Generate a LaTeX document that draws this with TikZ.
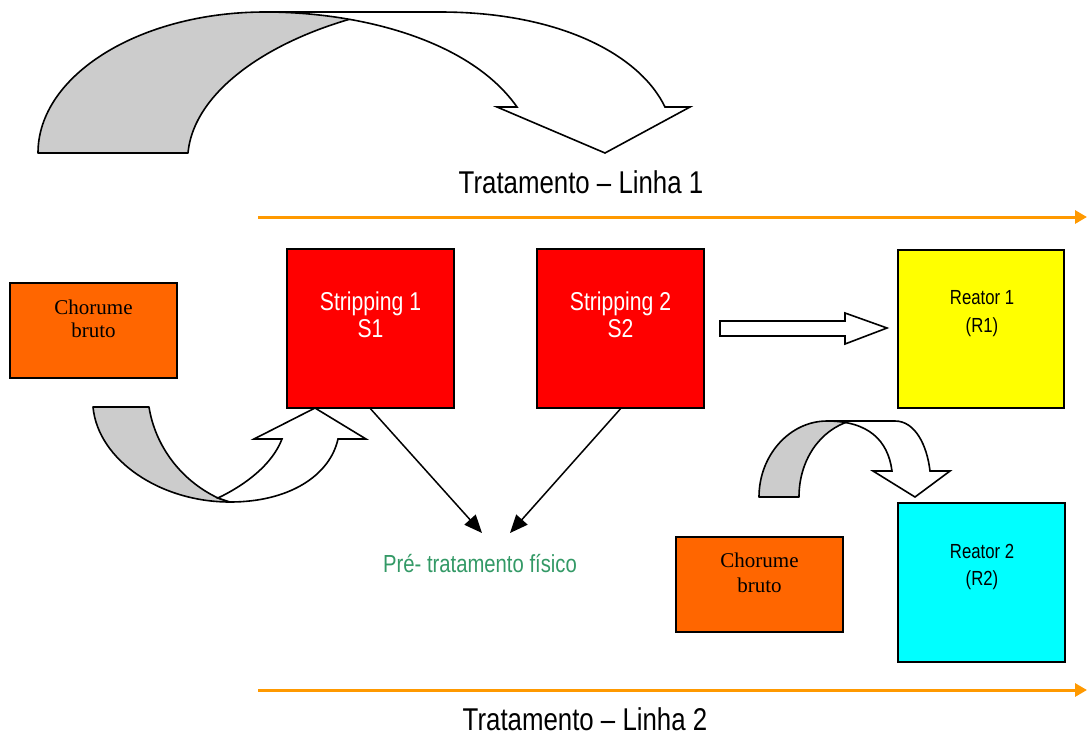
\documentclass[tikz,border=0pt]{standalone}
\usepackage{fontspec}
\setmainfont{Liberation Serif}
\newfontfamily\narrow{Liberation Sans}[FakeStretch=0.82]
\usetikzlibrary{arrows.meta}
\definecolor{chor}{HTML}{FF6600}
\definecolor{strip}{HTML}{FF0000}
\definecolor{reaone}{HTML}{FFFF00}
\definecolor{reatwo}{HTML}{00FFFF}
\definecolor{linecol}{HTML}{FF9900}
\definecolor{physgreen}{HTML}{339966}
\definecolor{bandgray}{HTML}{CCCCCC}
\tikzset{
  box/.style={draw=black, line width=1.5pt, rectangle, inner sep=0pt},
  smallbox/.style={box, minimum width=167pt, minimum height=95pt},
  bigbox/.style={box, minimum width=167pt, minimum height=159pt},
  txt/.style={anchor=base, inner sep=0pt},
  serif/.style={txt, font=\fontsize{21}{24}\selectfont},
  striptxt/.style={txt, text=white, font=\narrow\fontsize{25.8}{30}\selectfont},
  reatxt/.style={txt, font=\narrow\fontsize{20.4}{24}\selectfont},
  linelabel/.style={txt, font=\narrow\fontsize{31.5}{36}\selectfont},
  bandback/.style={draw=black, line width=1.6pt, fill=bandgray, line join=round},
  bandfront/.style={draw=black, line width=1.6pt, fill=white, line join=miter},
  flowline/.style={draw=linecol, line width=3pt, -{Triangle[length=12pt,width=13pt]}},
  thinarrow/.style={draw=black, line width=1.5pt, -{Triangle[length=18pt,width=15pt]}}
}
\begin{document}
\begin{tikzpicture}[x=1pt,y=-1pt]
\useasboundingbox (0,0) rectangle (1087,740);

% top curved arrow
\draw[bandback] (38,153) .. controls (38,75) and (140,12) .. (265,12) -- (378,12)
  .. controls (278,34) and (194,88) .. (188,153) -- cycle;
\draw[bandfront] (265,12) -- (440,12) .. controls (560,12) and (640,55) .. (665,107)
  -- (690,107) -- (605,153) -- (497,107) -- (517,107)
  .. controls (470,40) and (360,12) .. (265,12) -- cycle;

\node[linelabel] (lab1) at (581,193) {Tratamento – Linha 1};
\coordinate (l1s) at (258,217);
\coordinate (l1e) at (1087,217);
\draw[flowline] (l1s) -- (l1e);

% boxes
\node[smallbox, fill=chor] (c1) at (93.5,330.5) {};
\node[serif] (c1a) at (93.5,314) {Chorume};
\node[serif] (c1b) at (93.5,337) {bruto};

\node[bigbox, fill=strip] (s1) at (370.5,328.5) {};
\node[striptxt] (s1a) at (370.5,310) {Stripping 1};
\node[striptxt] (s1b) at (370.5,337) {S1};

\node[bigbox, fill=strip] (s2) at (620.5,328.5) {};
\node[striptxt] (s2a) at (620.5,310) {Stripping 2};
\node[striptxt] (s2b) at (620.5,337) {S2};

\node[bigbox, fill=reaone, minimum width=166pt, minimum height=158pt] (r1) at (981,329) {};
\node[reatxt] (r1a) at (982,304) {Reator 1};
\node[reatxt] (r1b) at (982,332) {(R1)};

\node[bigbox, fill=reatwo] (r2) at (981.5,582.5) {};
\node[reatxt] (r2a) at (982,558) {Reator 2};
\node[reatxt] (r2b) at (982,585) {(R2)};

\node[smallbox, fill=chor] (c2) at (759.5,584.5) {};
\node[serif] (c2a) at (759.5,567) {Chorume};
\node[serif] (c2b) at (759.5,592) {bruto};

% block arrow S2 -> R1
\draw[bandfront] (720,321) -- (845,321) -- (845,313) -- (887,328) -- (845,344)
  -- (845,336) -- (720,336) -- cycle;

% bottom-left curved up arrow
\draw[bandback] (93,407) -- (149,407) .. controls (155,445) and (180,480) .. (218,498)
  -- (230,502) .. controls (160,502) and (98,460) .. (93,407) -- cycle;
\draw[bandfront] (218,498) .. controls (245,485) and (272,465) .. (282,439)
  -- (254,439) -- (315,408) -- (366,439) -- (338,439)
  .. controls (330,475) and (290,502) .. (230,502) -- cycle;

% small curved arrow near R2
\draw[bandback] (759,497) .. controls (759,455) and (790,421) .. (827,421) -- (850,421)
  .. controls (820,430) and (799,460) .. (799,497) -- cycle;
\draw[bandfront] (827,421) -- (895,421) .. controls (915,421) and (927,445) .. (930,471)
  -- (950,471) -- (915,497) -- (873,471) -- (892,471)
  .. controls (888,440) and (868,421) .. (827,421) -- cycle;

% thin arrows to physical pre-treatment
\coordinate (p1) at (482,533);
\coordinate (p2) at (510,533);
\draw[thinarrow] (s1.south) -- (p1);
\draw[thinarrow] (s2.south) -- (p2);

\node[txt, text=physgreen, font=\narrow\fontsize{24.7}{29}\selectfont] (pre) at (480,572) {Pré- tratamento físico};

\coordinate (l2s) at (258,690);
\coordinate (l2e) at (1087,690);
\draw[flowline] (l2s) -- (l2e);
\node[linelabel] (lab2) at (585,730) {Tratamento – Linha 2};
\end{tikzpicture}
\end{document}
